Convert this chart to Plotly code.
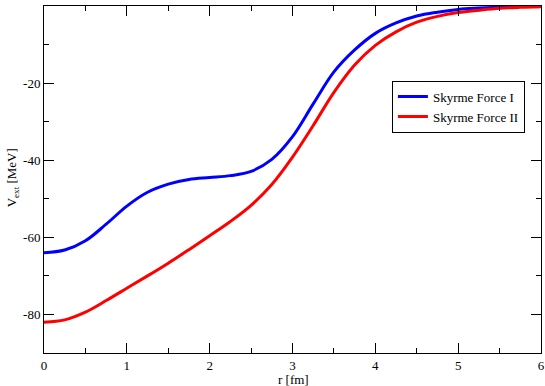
import plotly.graph_objects as go

r = [0, 0.25, 0.5, 0.75, 1, 1.25, 1.5, 1.75, 2, 2.25, 2.5, 2.75, 3, 3.25, 3.5, 3.75, 4, 4.25, 4.5, 4.75, 5, 5.25, 5.5, 5.75, 6]
v_force1 = [-64.0, -63.3, -60.9, -56.6, -51.9, -48.3, -46.2, -45.0, -44.5, -44.0, -42.9, -39.8, -33.9, -25.4, -17.1, -11.4, -7.1, -4.4, -2.6, -1.6, -0.9, -0.55, -0.3, -0.15, -0.1]
v_force2 = [-82.0, -81.4, -79.4, -76.4, -73.2, -70.0, -66.7, -63.2, -59.6, -55.9, -51.7, -46.3, -39.2, -31.0, -22.4, -15.3, -10.2, -6.7, -4.2, -2.7, -1.7, -1.1, -0.6, -0.35, -0.2]

x_ticks = [0, 1, 2, 3, 4, 5, 6]
y_ticks = [-80, -60, -40, -20, 0]
y_tick_labels = ["-80", "-60", "-40", "-20", "0"]

font = dict(family="Times New Roman, Liberation Serif, Times, DejaVu Serif, serif", size=13, color="black")

fig = go.Figure()
fig.add_trace(go.Scatter(x=r, y=v_force1, mode="lines", name="Skyrme Force I",
                         line=dict(color="#0000ff", width=3, shape="spline", smoothing=1.0)))
fig.add_trace(go.Scatter(x=r, y=v_force2, mode="lines", name="Skyrme Force II",
                         line=dict(color="#ff0000", width=3, shape="spline", smoothing=1.0)))

axis_common = dict(showgrid=False, zeroline=False, showline=True, linecolor="black", linewidth=1,
                   mirror="allticks", ticks="inside", ticklen=10, tickcolor="black", tickwidth=1,
                   tickfont=font, automargin=False)
fig.update_xaxes(range=[0, 6], tickvals=x_ticks,
                 minor=dict(ticks="inside", ticklen=5, dtick=0.5, tickcolor="black"), **axis_common)
fig.update_yaxes(range=[-90, 0], tickvals=y_ticks, ticktext=y_tick_labels,
                 minor=dict(ticks="inside", ticklen=5, dtick=10, tickcolor="black"), **axis_common)

fig.add_annotation(text="r [fm]", xref="paper", yref="paper", x=0.503, y=-0.076,
                   xanchor="center", yanchor="middle", showarrow=False, font=font)
fig.add_annotation(text="V<sub>ext</sub> [MeV]", xref="paper", yref="paper", x=-0.064, y=0.504,
                   xanchor="center", yanchor="middle", showarrow=False, font=font, textangle=-90)

fig.update_layout(
    width=545, height=386,
    margin=dict(l=44, r=4, t=6, b=33),
    paper_bgcolor="white", plot_bgcolor="white",
    font=font,
    showlegend=True,
    legend=dict(x=0.70, y=0.785, xanchor="left", yanchor="top",
                bordercolor="black", borderwidth=1, bgcolor="white",
                font=font, tracegroupgap=0, itemwidth=30),
)

fig.write_html("out.html", config={"displayModeBar": False},
               post_script="document.body.style.margin='0';")
